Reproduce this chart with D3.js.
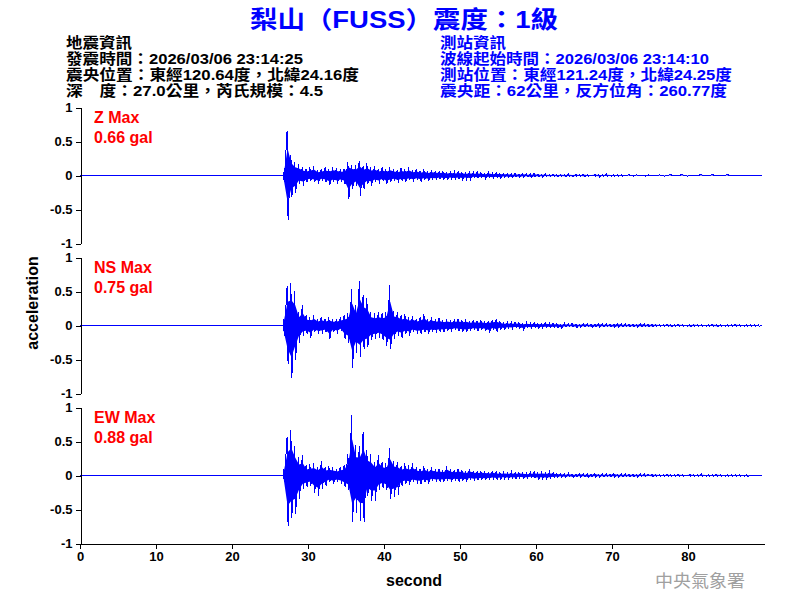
<!DOCTYPE html>
<html>
<head>
<meta charset="utf-8">
<script src="https://cdn.jsdelivr.net/npm/d3@7"></script>
<style>
  html, body { margin: 0; padding: 0; background: #fff; }
  svg { display: block; }
</style>
</head>
<body>
<svg id="chart" width="800" height="600"></svg>
<script>
// ---------------- DATA ----------------
const titleText = "梨山（FUSS）震度：1級";
const eventInfo = ["地震資訊", "發震時間：2026/03/06 23:14:25", "震央位置：東經120.64度，北緯24.16度", "深　度：27.0公里，芮氏規模：4.5"];
const stationInfo = ["測站資訊", "波線起始時間：2026/03/06 23:14:10", "測站位置：東經121.24度，北緯24.25度", "震央距：62公里，反方位角：260.77度"];
const channels = ["Z", "NS", "EW"];
const maxLabels = ["0.66 gal", "0.75 gal", "0.88 gal"];
const yTicks = [-1, -0.5, 0, 0.5, 1];
const xTicks = [0, 10, 20, 30, 40, 50, 60, 70, 80];
const xDomain = [0, 90];
const sampleStart = 26.75;   // seconds, first envelope sample
const sampleStep = 0.5;      // seconds between envelope samples

// envelope peaks (gal) read from the record, one per 0.5 s window
const zUp = [
  0.05,0.66,0.30,0.20,0.17,0.12,0.10,0.12,0.14,0.08,
  0.10,0.12,0.10,0.13,0.11,0.09,0.10,0.20,0.16,0.15,
  0.22,0.14,0.18,0.12,0.14,0.10,0.12,0.09,0.13,0.10,
  0.08,0.11,0.09,0.12,0.08,0.10,0.07,0.09,0.06,0.08,
  0.07,0.06,0.07,0.05,0.06,0.05,0.06,0.05,0.04,0.05,
  0.04,0.05,0.04,0.03,0.05,0.03,0.04,0.03,0.03,0.03,
  0.02,0.03,0.02,0.03,0.02,0.02,0.03,0.02,0.02,0.02,
  0.01,0.02,0.01,0.02,0.01,0.02,0.01,0.02,0.01,0.02,
  0.01,0.01,0.02,0.01,0.01,0.02,0.01,0.01,0.01,0.01,
  0,0.01,0,0.01,0,0,0.01,0,0,0.01,
  0,0,0.02,0,0,0.02,0,0,0,0,
  0.02,0,0,0.02,0,0,0,0.02,0,0,
  0,0,0,0,0,0];
const zDn = [
  -0.10,-0.65,-0.32,-0.25,-0.12,-0.15,-0.10,-0.08,-0.10,-0.12,
  -0.08,-0.10,-0.14,-0.10,-0.12,-0.10,-0.13,-0.34,-0.20,-0.15,
  -0.30,-0.20,-0.12,-0.15,-0.10,-0.12,-0.08,-0.13,-0.10,-0.08,
  -0.11,-0.08,-0.10,-0.07,-0.09,-0.07,-0.09,-0.06,-0.08,-0.06,
  -0.07,-0.05,-0.06,-0.06,-0.05,-0.06,-0.05,-0.06,-0.05,-0.06,
  -0.03,-0.04,-0.03,-0.04,-0.03,-0.04,-0.03,-0.04,-0.02,-0.03,
  -0.03,-0.02,-0.03,-0.02,-0.02,-0.03,-0.02,-0.02,-0.02,-0.01,
  -0.02,-0.01,-0.02,-0.01,-0.02,-0.01,-0.02,-0.01,-0.01,-0.02,
  -0.01,-0.01,-0.01,-0.02,-0.01,-0.01,-0.01,-0.01,-0.01,-0.01,
  0,0,-0.01,0,0,-0.01,0,0,0,0,
  -0.01,0,0,0,0,0,-0.01,0,0,0,
  0,0,0,0,0,0,0,0,0,0,
  0,0,0,0,0,0];
const nsUp = [
  0.10,0.58,0.62,0.50,0.20,0.30,0.15,0.12,0.16,0.10,
  0.13,0.10,0.12,0.09,0.10,0.12,0.15,0.18,0.54,0.30,
  0.65,0.45,0.40,0.20,0.18,0.20,0.18,0.20,0.59,0.22,
  0.20,0.15,0.17,0.12,0.14,0.10,0.12,0.17,0.10,0.12,
  0.09,0.11,0.08,0.10,0.08,0.09,0.10,0.08,0.09,0.07,
  0.08,0.07,0.08,0.06,0.07,0.08,0.09,0.06,0.04,0.05,
  0.04,0.05,0.04,0.03,0.04,0.03,0.04,0.03,0.03,0.04,
  0.03,0.03,0.03,0.02,0.03,0.02,0.03,0.02,0.02,0.03,
  0.02,0.02,0.02,0.03,0.02,0.02,0.02,0.02,0.03,0.02,
  0.02,0.02,0.02,0.02,0.03,0.02,0.02,0.02,0.02,0.01,
  0.01,0.02,0.01,0.01,0.02,0.01,0.01,0.01,0.02,0.01,
  0.01,0.01,0.01,0.02,0.01,0.01,0.01,0.01,0.01,0.02,
  0.01,0.01,0.01,0.01,0.01,0.01];
const nsDn = [
  -0.15,-0.57,-0.77,-0.50,-0.25,-0.15,-0.12,-0.18,-0.10,-0.13,
  -0.12,-0.10,-0.20,-0.10,-0.12,-0.08,-0.20,-0.25,-0.62,-0.40,
  -0.47,-0.35,-0.32,-0.22,-0.20,-0.18,-0.22,-0.30,-0.35,-0.20,
  -0.15,-0.18,-0.12,-0.15,-0.10,-0.13,-0.12,-0.10,-0.12,-0.10,
  -0.11,-0.09,-0.10,-0.08,-0.09,-0.07,-0.08,-0.09,-0.10,-0.08,
  -0.07,-0.08,-0.06,-0.08,-0.11,-0.06,-0.09,-0.05,-0.06,-0.04,
  -0.05,-0.03,-0.04,-0.06,-0.03,-0.04,-0.03,-0.04,-0.03,-0.03,
  -0.03,-0.03,-0.03,-0.04,-0.02,-0.02,-0.02,-0.03,-0.02,-0.02,
  -0.02,-0.03,-0.02,-0.02,-0.02,-0.02,-0.02,-0.03,-0.02,-0.02,
  -0.02,-0.02,-0.02,-0.02,-0.02,-0.02,-0.02,-0.02,-0.01,-0.01,
  -0.01,-0.01,-0.02,-0.01,-0.01,-0.01,-0.01,-0.02,-0.01,-0.01,
  -0.01,-0.01,-0.01,-0.01,-0.02,-0.01,-0.01,-0.01,-0.01,-0.01,
  -0.01,-0.01,-0.01,-0.01,-0.01,-0.01];
const ewUp = [
  0.10,0.57,0.67,0.44,0.27,0.30,0.15,0.17,0.18,0.13,
  0.21,0.12,0.14,0.12,0.10,0.13,0.15,0.32,0.89,0.45,
  0.44,0.64,0.37,0.32,0.20,0.30,0.20,0.18,0.40,0.22,
  0.20,0.14,0.18,0.15,0.18,0.12,0.10,0.14,0.10,0.12,
  0.09,0.10,0.08,0.14,0.09,0.08,0.10,0.08,0.06,0.10,
  0.07,0.06,0.07,0.06,0.05,0.07,0.05,0.04,0.05,0.04,
  0.05,0.04,0.05,0.04,0.03,0.04,0.05,0.04,0.05,0.04,
  0.05,0.04,0.03,0.03,0.02,0.03,0.02,0.02,0.03,0.02,
  0.02,0.02,0.03,0.02,0.02,0.02,0.02,0.03,0.02,0.02,
  0.02,0.02,0.02,0.02,0.02,0.02,0.02,0.02,0.02,0.01,
  0.01,0.02,0.01,0.01,0.02,0.01,0.01,0.02,0.01,0.01,
  0.02,0.01,0.01,0.01,0.02,0.01,0.01,0.01,0.01,0.01,
  0.01,0.01,0.01,0,0,0];
const ewDn = [
  -0.10,-0.74,-0.62,-0.57,-0.35,-0.20,-0.17,-0.15,-0.25,-0.30,
  -0.20,-0.15,-0.10,-0.13,-0.10,-0.12,-0.17,-0.22,-0.69,-0.55,
  -0.67,-0.68,-0.30,-0.37,-0.37,-0.22,-0.18,-0.22,-0.35,-0.32,
  -0.28,-0.15,-0.12,-0.14,-0.10,-0.12,-0.13,-0.10,-0.12,-0.08,
  -0.10,-0.09,-0.10,-0.08,-0.10,-0.08,-0.09,-0.08,-0.09,-0.06,
  -0.08,-0.07,-0.06,-0.07,-0.06,-0.05,-0.06,-0.05,-0.04,-0.05,
  -0.04,-0.05,-0.03,-0.04,-0.04,-0.03,-0.04,-0.05,-0.04,-0.05,
  -0.04,-0.03,-0.03,-0.02,-0.03,-0.02,-0.03,-0.02,-0.02,-0.02,
  -0.03,-0.02,-0.02,-0.02,-0.02,-0.02,-0.02,-0.02,-0.02,-0.02,
  -0.02,-0.02,-0.02,-0.02,-0.01,-0.02,-0.01,-0.02,-0.01,-0.01,
  -0.01,-0.01,-0.01,-0.01,-0.01,-0.01,-0.01,-0.01,-0.01,-0.01,
  -0.01,-0.01,-0.01,-0.01,-0.01,-0.01,-0.01,-0.01,-0.01,-0.01,
  -0.01,-0.01,-0.01,0,0,0];
const upSeries = [zUp, nsUp, ewUp];
const dnSeries = [zDn, nsDn, ewDn];

// ---------------- DRAW ----------------
const svg = d3.select("#chart");
const LATIN = "'Liberation Sans', Arial, sans-serif";
const MIXED = "'Liberation Sans', 'Noto Sans CJK TC', sans-serif";
const BLUE = "#0000ff";

svg.append("text")
  .attr("x", 404).attr("y", 27.5)
  .attr("text-anchor", "middle")
  .attr("textLength", 308).attr("lengthAdjust", "spacingAndGlyphs")
  .style("font-family", MIXED).style("font-size", "24px").style("font-weight", "bold")
  .attr("fill", BLUE).text(titleText);

const leftWidths = [66, 237, 293, 257];
const rightWidths = [66, 269, 292, 287];
eventInfo.forEach((s, i) => {
  svg.append("text").attr("x", 66).attr("y", 48 + i * 16)
    .attr("textLength", leftWidths[i]).attr("lengthAdjust", "spacingAndGlyphs")
    .style("font-family", MIXED).style("font-size", "15px").style("font-weight", "bold")
    .attr("fill", "#000").text(s);
});
stationInfo.forEach((s, i) => {
  svg.append("text").attr("x", 440).attr("y", 48 + i * 16)
    .attr("textLength", rightWidths[i]).attr("lengthAdjust", "spacingAndGlyphs")
    .style("font-family", MIXED).style("font-size", "15px").style("font-weight", "bold")
    .attr("fill", BLUE).text(s);
});

const x = d3.scaleLinear().domain(xDomain).range([80, 764]);
const panelTop = 107.5, panelH = 136, panelGap = 150;

channels.forEach((ch, k) => {
  const top = panelTop + k * panelGap;
  const y = d3.scaleLinear().domain([-1, 1]).range([top + panelH, top]);

  const ups = upSeries[k], dns = dnSeries[k];
  const n = Math.min(ups.length, dns.length);
  const win = [];
  for (let i = 0; i < n; i++) win.push({ t: sampleStart + i * sampleStep, up: ups[i], dn: dns[i] });

  // trace: flat before onset, then through each window's peak and trough
  const pts = [[0, 0], [sampleStart, 0]];
  win.forEach(d => {
    pts.push([d.t, d.up]);
    pts.push([d.t + sampleStep / 4, d.dn]);
  });
  pts.push([sampleStart + n * sampleStep, 0]);

  // core fill between consecutive peak/trough pairs (dense sampling look)
  const area = d3.area().curve(d3.curveLinear)
    .x(d => x(d.t + sampleStep / 8)).y0(d => y(d.dn * 0.6)).y1(d => y(d.up * 0.6));
  svg.append("path").attr("d", area(win))
    .attr("fill", BLUE).attr("stroke", "none");

  const line = d3.line().x(d => x(d[0])).y(d => y(d[1]));
  svg.append("path").attr("d", line(pts))
    .attr("fill", "none").attr("stroke", BLUE).attr("stroke-width", 1)
    .attr("shape-rendering", "crispEdges");

  // y axis
  const ax = svg.append("g").attr("transform", "translate(80.5,0)")
    .call(d3.axisLeft(y).tickValues(yTicks).tickSize(5).tickSizeOuter(0).tickFormat(d => String(d)));
  ax.selectAll("path,line").attr("stroke", "#000").attr("shape-rendering", "crispEdges");
  ax.selectAll("text").style("font-family", LATIN).style("font-size", "13px")
    .style("font-weight", "bold").attr("fill", "#000").attr("x", -8);

  // max labels
  svg.append("text").attr("x", 94).attr("y", top + 15.5)
    .style("font-family", LATIN).style("font-size", "16px").style("font-weight", "bold")
    .attr("fill", "#ff0000").text(ch + " Max");
  svg.append("text").attr("x", 94).attr("y", top + 35)
    .style("font-family", LATIN).style("font-size", "16px").style("font-weight", "bold")
    .attr("fill", "#ff0000").text(maxLabels[k]);
});

// x axis at bottom
const xa = svg.append("g").attr("transform", `translate(0,${panelTop + 2 * panelGap + panelH})`)
  .call(d3.axisBottom(x).tickValues(xTicks).tickSize(5).tickSizeOuter(0).tickFormat(d => String(d)));
xa.selectAll("path,line").attr("stroke", "#000").attr("shape-rendering", "crispEdges");
xa.selectAll("text").style("font-family", LATIN).style("font-size", "13px")
  .style("font-weight", "bold").attr("fill", "#000").attr("y", 8);

svg.append("text").attr("x", 414).attr("y", 586).attr("text-anchor", "middle")
  .style("font-family", LATIN).style("font-size", "16px").style("font-weight", "bold")
  .attr("fill", "#000").text("second");

svg.append("text").attr("transform", "translate(38,303) rotate(-90)").attr("text-anchor", "middle")
  .style("font-family", LATIN).style("font-size", "16px").style("font-weight", "bold")
  .attr("fill", "#000").text("acceleration");

svg.append("text").attr("x", 655).attr("y", 587)
  .attr("textLength", 90).attr("lengthAdjust", "spacingAndGlyphs")
  .style("font-family", "'Noto Sans CJK TC', sans-serif").style("font-size", "17px")
  .attr("fill", "#a0a0a0").text("中央氣象署");
</script>
</body>
</html>
